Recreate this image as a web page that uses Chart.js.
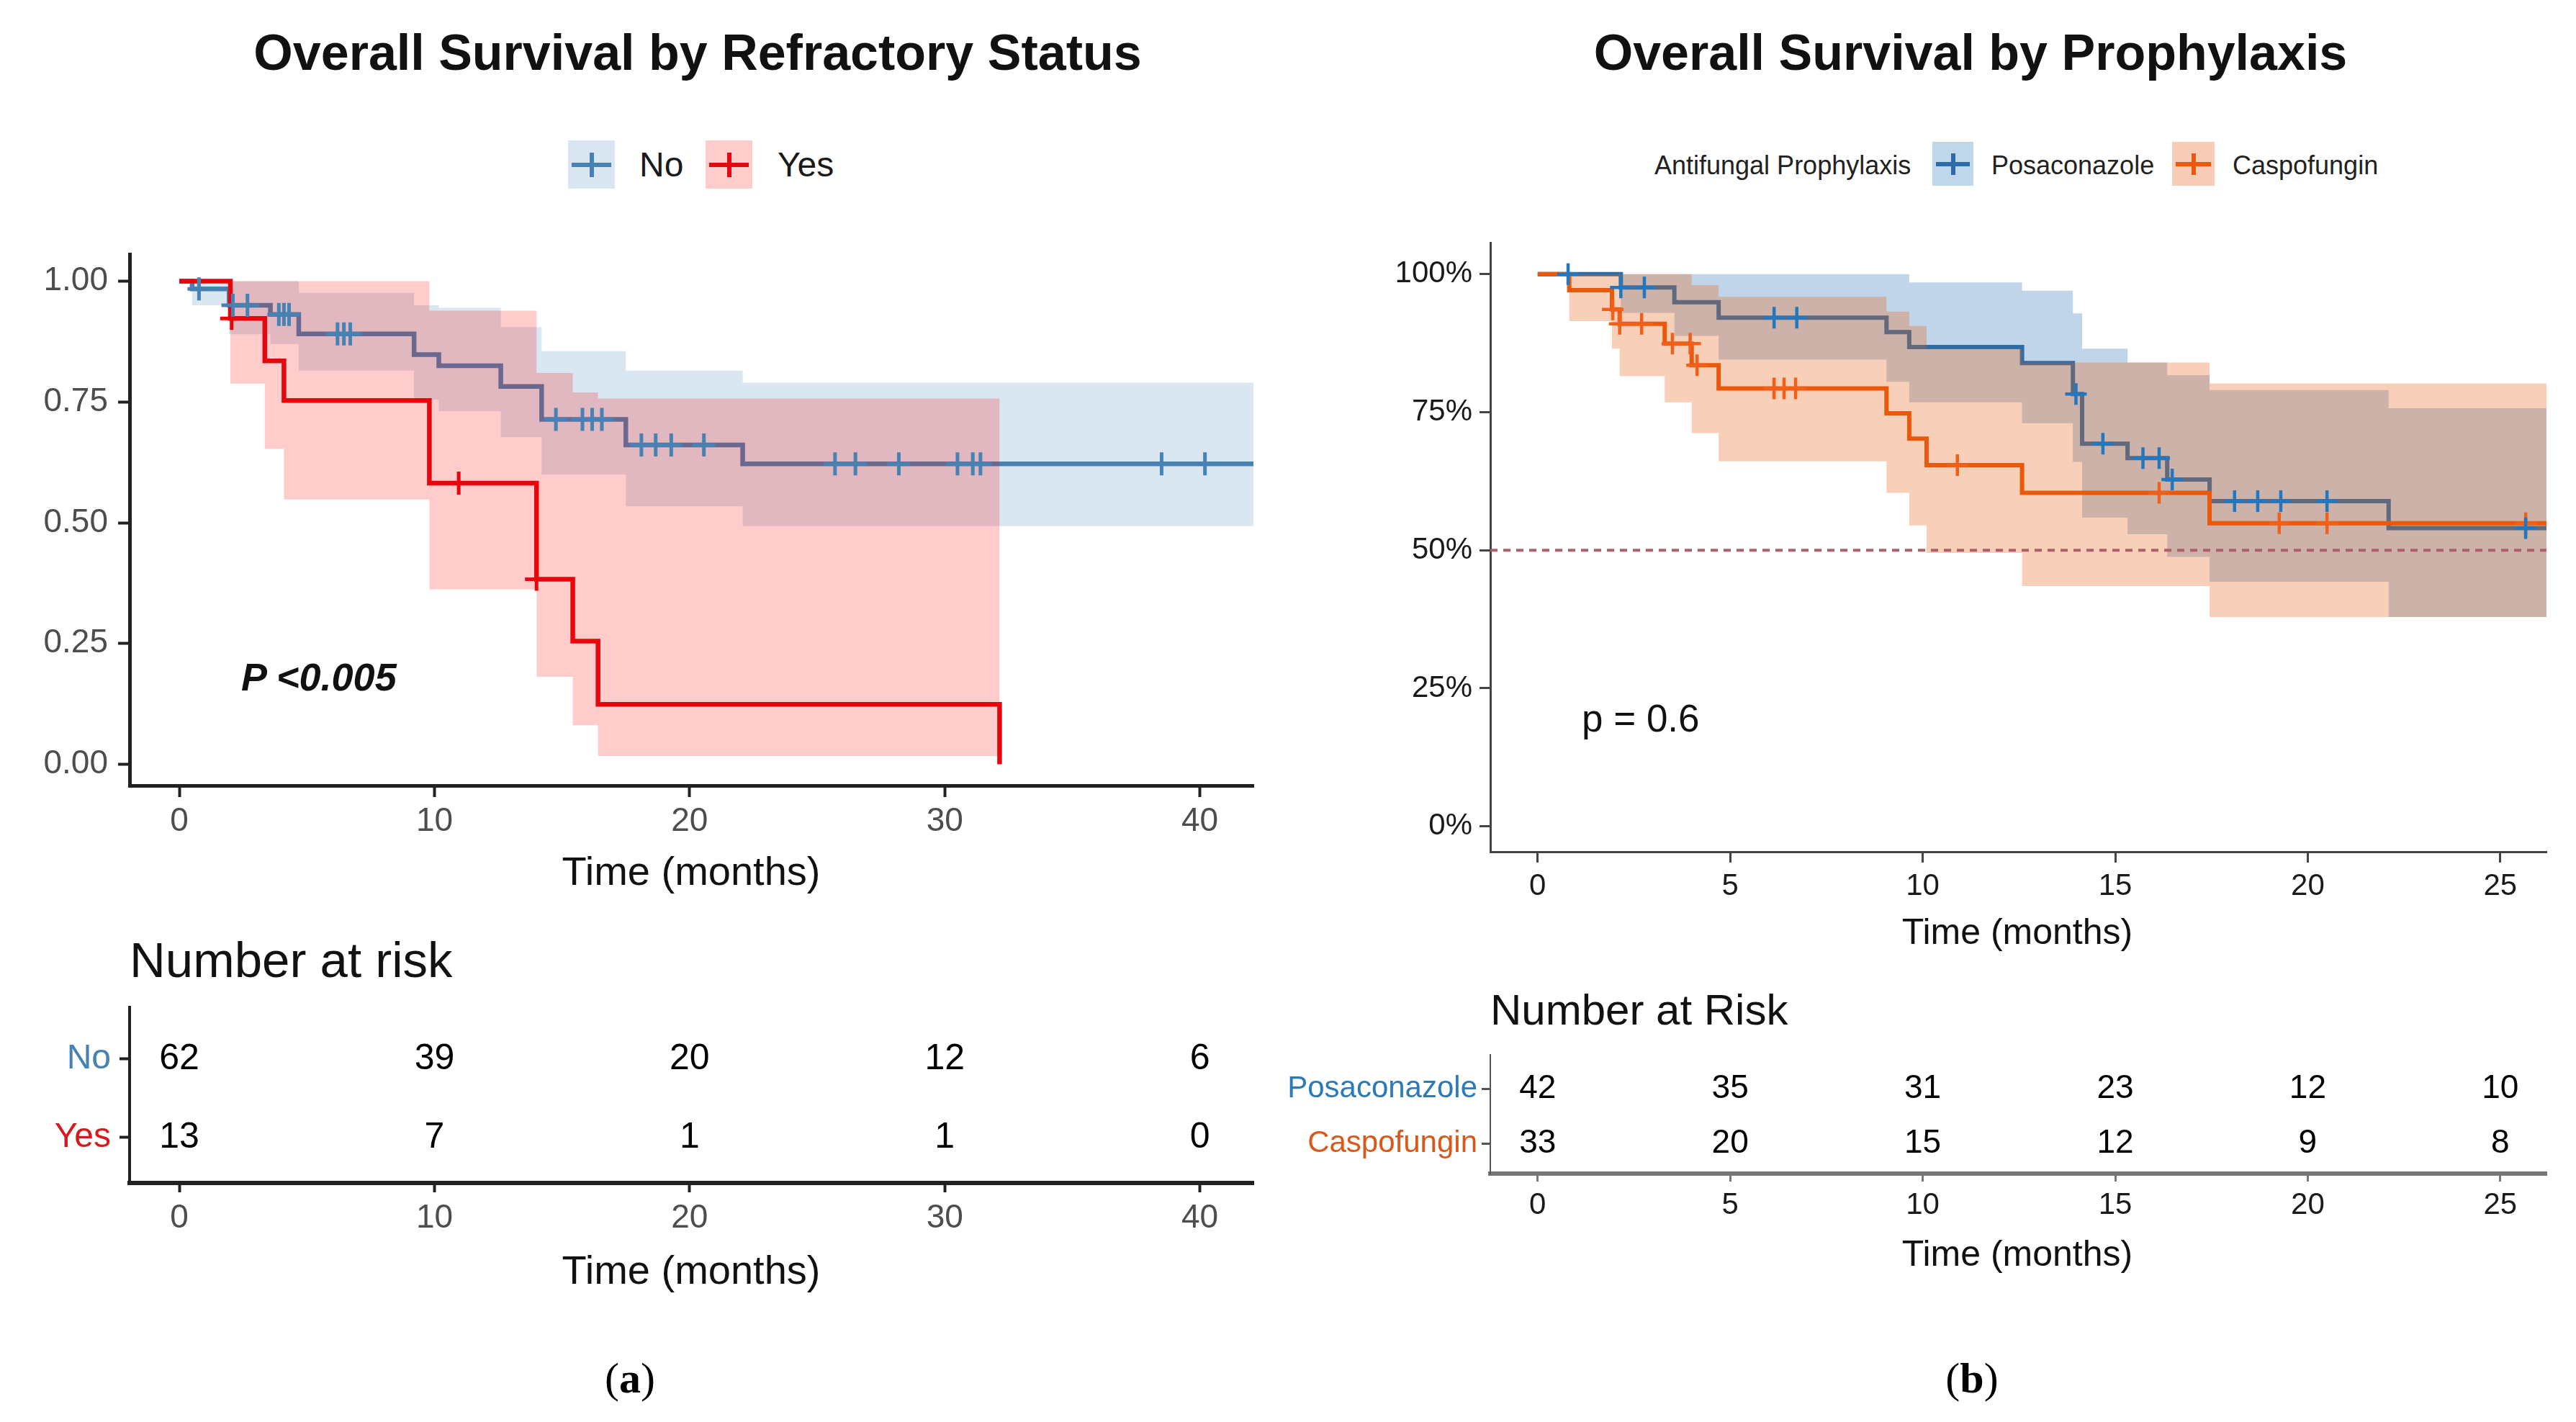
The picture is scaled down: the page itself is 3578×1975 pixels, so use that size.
<!DOCTYPE html>
<html>
<head>
<meta charset="utf-8">
<script src="https://cdn.jsdelivr.net/npm/chart.js@4.4.1/dist/chart.umd.min.js"></script>
<style>
html,body{margin:0;padding:0;background:#fff;}
#root{position:relative;width:3578px;height:1975px;overflow:hidden;background:#fff;}
canvas{position:absolute;}
</style>
</head>
<body>
<div id="root"></div>
<script>
// ================= DATA =================
// Panel (a): Overall survival by refractory status
const titleA = "Overall Survival by Refractory Status";
const groupNamesA = ["No", "Yes"];
const noTimes  = [0, 0.5, 1.95, 3.57, 4.68, 9.2, 10.17, 12.6, 14.2, 17.5, 22.08, 42.1];
const noSurv   = [1.0, 0.984, 0.95, 0.931, 0.891, 0.848, 0.825, 0.782, 0.714, 0.661, 0.622, 0.622];
const noLower  = [1.0, 0.95, 0.89, 0.87, 0.815, 0.755, 0.731, 0.677, 0.60, 0.534, 0.493, 0.493];
const noUpper  = [1.0, 1.0, 1.0, 1.0, 0.976, 0.95, 0.945, 0.905, 0.855, 0.815, 0.79, 0.79];
const noCensor = [0.77, 2.1, 2.67, 3.9, 4.1, 4.3, 6.2, 6.45, 6.7, 14.76, 15.8, 16.18, 16.56,
                  18.11, 18.67, 19.28, 20.56, 25.7, 26.5, 28.2, 30.5, 31.1, 31.4, 38.5, 40.2];
const yesTimes = [0, 2.0, 3.35, 4.1, 9.8, 14.0, 15.42, 16.41, 32.15];
const yesSurv  = [1.0, 0.923, 0.835, 0.753, 0.582, 0.383, 0.255, 0.124, 0.0];
const yesLower = [1.0, 0.788, 0.653, 0.548, 0.362, 0.181, 0.081, 0.017, 0.017];
const yesUpper = [1.0, 1.0, 1.0, 1.0, 0.939, 0.81, 0.77, 0.757, 0.757];
const yesCensor = [2.05, 10.95, 14.0];
const xTicksA = [0, 10, 20, 30, 40];
const yTicksA = [0, 0.25, 0.5, 0.75, 1.0];
const riskTimesA = [0, 10, 20, 30, 40];
const riskNo  = [62, 39, 20, 12, 6];
const riskYes = [13, 7, 1, 1, 0];
const pTextA = "P <0.005";

// Panel (b): Overall survival by prophylaxis
const titleB = "Overall Survival by Prophylaxis";
const legendTitleB = "Antifungal Prophylaxis";
const groupNamesB = ["Posaconazole", "Caspofungin"];
const posTimes = [0, 2.16, 3.55, 4.7, 9.06, 9.65, 12.58, 13.9, 14.14, 15.32, 16.35, 17.45, 22.1, 26.2];
const posSurv  = [1.0, 0.976, 0.949, 0.921, 0.895, 0.868, 0.839, 0.783, 0.693, 0.667, 0.628, 0.589, 0.54, 0.54];
const posLower = [1.0, 0.93, 0.888, 0.845, 0.805, 0.768, 0.73, 0.66, 0.559, 0.529, 0.488, 0.443, 0.379, 0.379];
const posUpper = [1.0, 1.0, 1.0, 1.0, 1.0, 0.985, 0.97, 0.929, 0.865, 0.84, 0.817, 0.79, 0.757, 0.757];
const posCensor = [0.79, 2.16, 2.77, 6.14, 6.73, 13.98, 14.68, 15.72, 16.14, 16.48, 18.1, 18.7, 19.3, 20.5, 25.66];
const casTimes = [0, 0.82, 1.93, 2.13, 3.3, 4.0, 4.7, 9.06, 9.65, 10.1, 12.58, 17.45, 26.2];
const casSurv  = [1.0, 0.971, 0.936, 0.91, 0.874, 0.835, 0.793, 0.748, 0.702, 0.654, 0.604, 0.549, 0.549];
const casLower = [1.0, 0.915, 0.865, 0.815, 0.768, 0.712, 0.661, 0.604, 0.545, 0.495, 0.435, 0.379, 0.379];
const casUpper = [1.0, 1.0, 1.0, 1.0, 1.0, 0.98, 0.959, 0.932, 0.906, 0.865, 0.84, 0.802, 0.802];
const casCensor = [1.95, 2.13, 2.7, 3.5, 3.96, 4.14, 6.14, 6.4, 6.7, 10.9, 16.14, 19.26, 20.5, 25.66];
const xTicksB = [0, 5, 10, 15, 20, 25];
const yTicksB = [0, 0.25, 0.5, 0.75, 1.0];
const medianRef = 0.5;
const riskTimesB = [0, 5, 10, 15, 20, 25];
const riskPos = [42, 35, 31, 23, 12, 10];
const riskCas = [33, 20, 15, 12, 9, 8];
const pTextB = "p = 0.6";
const xTitle = "Time (months)";

// ================= HELPERS =================
const W = 3578, H = 1975;
const FONT = "'Liberation Sans', Arial, Helvetica, sans-serif";
const root = document.getElementById('root');

function stepData(times, vals) { return times.map((t, i) => ({ x: t, y: vals[i] })); }
function valueAt(times, vals, t) {
  let v = vals[0];
  for (let i = 0; i < times.length; i++) if (times[i] <= t) v = vals[i];
  return v;
}
function txt(str, x, y, o) {
  const d = document.createElement('div');
  if (o.html) d.innerHTML = str; else d.textContent = str;
  d.style.cssText = `position:absolute;white-space:nowrap;font-family:${o.family || FONT};font-size:${o.size}px;line-height:${o.size}px;font-weight:${o.weight || 400};font-style:${o.style || 'normal'};color:${o.color || '#000'};top:${y - o.size * 0.5}px;`;
  if (o.align === 'center') { d.style.left = x + 'px'; d.style.transform = 'translateX(-50%)'; }
  else if (o.align === 'right') { d.style.right = (W - x) + 'px'; }
  else d.style.left = x + 'px';
  root.appendChild(d);
}
function legendKey(x, y, w, h, bg, col, lw, vh) {
  const b = document.createElement('div');
  b.style.cssText = `position:absolute;left:${x}px;top:${y}px;width:${w}px;height:${h}px;background:${bg};`;
  const hl = document.createElement('div');
  hl.style.cssText = `position:absolute;left:${w * 0.08}px;width:${w * 0.84}px;top:${h / 2 - lw / 2}px;height:${lw}px;background:${col};`;
  const vl = document.createElement('div');
  vl.style.cssText = `position:absolute;left:${w / 2 - lw / 2}px;width:${lw}px;top:${h / 2 - vh / 2}px;height:${vh}px;background:${col};`;
  b.appendChild(hl); b.appendChild(vl);
  root.appendChild(b);
}
function makeCanvas(x, y, w, h) {
  const c = document.createElement('canvas');
  c.width = w; c.height = h;
  c.style.left = x + 'px'; c.style.top = y + 'px';
  c.style.width = w + 'px'; c.style.height = h + 'px';
  root.appendChild(c);
  return c;
}

const hLinePlugin = {
  id: 'hline',
  afterDatasetsDraw(chart, args, opts) {
    if (!opts || opts.value == null) return;
    const { ctx, chartArea } = chart;
    const y = chart.scales.y.getPixelForValue(opts.value);
    ctx.save();
    ctx.strokeStyle = opts.color; ctx.lineWidth = opts.width;
    ctx.setLineDash(opts.dash);
    ctx.beginPath(); ctx.moveTo(chartArea.left, y); ctx.lineTo(chartArea.right, y); ctx.stroke();
    ctx.restore();
  }
};
const riskTextPlugin = {
  id: 'riskText',
  afterDatasetsDraw(chart, args, opts) {
    const ctx = chart.ctx;
    chart.data.datasets.forEach((ds, i) => {
      const meta = chart.getDatasetMeta(i);
      ctx.save();
      ctx.font = opts.font; ctx.fillStyle = opts.color;
      ctx.textAlign = 'center'; ctx.textBaseline = 'middle';
      meta.data.forEach((pt, j) => ctx.fillText(String(ds.counts[j]), pt.x, pt.y));
      ctx.restore();
    });
  }
};

function axisCommon(c, which) {
  return {
    type: 'linear',
    grid: { display: true, drawOnChartArea: false, drawTicks: true, tickLength: c[which].tickLen, tickWidth: c[which].tickW, tickColor: c[which].axisColor },
    border: { display: true, color: c[which].axisColor, width: c[which].axisW },
  };
}

function kmChart(c) {
  const canvas = makeCanvas(c.cx, c.cy, c.cw, c.ch);
  const datasets = [];
  c.groups.forEach((g, gi) => {
    const base = (c.groups.length - gi) * 10;
    datasets.push({ data: stepData(g.times, g.lower), stepped: true, borderWidth: 0, borderColor: 'rgba(0,0,0,0)', pointRadius: 0, fill: false, order: base + 4 });
    datasets.push({ data: stepData(g.times, g.upper), stepped: true, borderWidth: 0, borderColor: 'rgba(0,0,0,0)', pointRadius: 0, fill: '-1', backgroundColor: g.band, order: base + 3 });
    datasets.push({ data: stepData(g.times, g.surv), stepped: true, borderWidth: c.lineW, borderColor: g.line, pointRadius: 0, fill: false, order: base + 2, borderCapStyle: 'butt', borderJoinStyle: 'miter' });
    datasets.push({ data: g.censor.map(t => ({ x: t, y: valueAt(g.times, g.surv, t) })), showLine: false, pointStyle: 'cross', pointRadius: c.censorR, pointHoverRadius: c.censorR, pointBorderWidth: c.censorW, pointBorderColor: g.mark, borderColor: g.mark, backgroundColor: g.mark, order: gi + 1 });
  });
  const xs = axisCommon(c, 'x'), ys = axisCommon(c, 'y');
  Object.assign(xs, {
    min: c.xMin, max: c.xMax,
    afterBuildTicks: s => { s.ticks = c.xTicks.map(v => ({ value: v })); },
    afterFit: s => { s.height = c.xH; },
    ticks: { font: { family: FONT, size: c.x.fontSize }, color: c.x.tickColor, padding: c.x.pad, maxRotation: 0, autoSkip: false, callback: v => String(v) }
  });
  Object.assign(ys, {
    min: c.yMin, max: c.yMax,
    afterBuildTicks: s => { s.ticks = c.yTicks.map(v => ({ value: v })); },
    afterFit: s => { s.width = c.yW; },
    ticks: { font: { family: FONT, size: c.y.fontSize }, color: c.y.tickColor, padding: c.y.pad, autoSkip: false, callback: c.yFmt }
  });
  return new Chart(canvas, {
    type: 'line',
    data: { datasets },
    options: {
      responsive: false, animation: false, devicePixelRatio: 1,
      layout: { padding: { top: c.padT, right: c.padR, left: 0, bottom: 0 } },
      plugins: { legend: { display: false }, tooltip: { enabled: false }, hline: c.hline || {} },
      scales: { x: xs, y: ys }
    },
    plugins: c.hline ? [hLinePlugin] : []
  });
}

function riskChart(c) {
  const canvas = makeCanvas(c.cx, c.cy, c.cw, c.ch);
  const n = c.names.length;
  const datasets = c.rows.map((r, i) => ({
    data: c.times.map(t => ({ x: t, y: n - i })),
    counts: r, showLine: false, pointRadius: 0
  }));
  const xs = axisCommon(c, 'x'), ys = axisCommon(c, 'y');
  Object.assign(xs, {
    min: c.xMin, max: c.xMax,
    afterBuildTicks: s => { s.ticks = c.times.map(v => ({ value: v })); },
    afterFit: s => { s.height = c.xH; },
    ticks: { font: { family: FONT, size: c.x.fontSize }, color: c.x.tickColor, padding: c.x.pad, maxRotation: 0, autoSkip: false, callback: v => String(v) }
  });
  Object.assign(ys, {
    min: c.yMin, max: c.yMax,
    afterBuildTicks: s => { s.ticks = c.names.map((nm, i) => ({ value: n - i })); },
    afterFit: s => { s.width = c.yW; },
    ticks: { font: { family: FONT, size: c.y.fontSize }, padding: c.y.pad, autoSkip: false,
      color: ctx => c.nameColors[n - ctx.tick.value],
      callback: v => c.names[n - v] }
  });
  return new Chart(canvas, {
    type: 'line',
    data: { datasets },
    options: {
      responsive: false, animation: false, devicePixelRatio: 1,
      layout: { padding: { top: c.padT, right: c.padR, left: 0, bottom: 0 } },
      plugins: { legend: { display: false }, tooltip: { enabled: false }, riskText: { font: c.numFont, color: '#000' } },
      scales: { x: xs, y: ys }
    },
    plugins: [riskTextPlugin]
  });
}

// ================= COLOURS =================
const blueA = '#4682B4', redA = '#E8060E';
const blueBandA = 'rgba(70,130,180,0.2)', redBandA = 'rgba(255,0,0,0.2)';
const blueB = '#2A6DAA', orangeB = '#E8590C';
const blueMarkB = '#2178C0', orangeMarkB = '#F0601A';
const blueBandB = 'rgba(46,117,182,0.3)', orangeBandB = 'rgba(232,95,20,0.3)';

// ================= PANEL (a) =================
txt(titleA, 969, 73, { size: 70, weight: 700, align: 'center', color: '#111' });
legendKey(789, 195, 65, 67, '#D9E5F0', blueA, 6, 34);
txt(groupNamesA[0], 888, 229, { size: 48, color: '#1a1a1a' });
legendKey(980, 195, 65, 67, '#FFCCCC', redA, 6, 34);
txt(groupNamesA[1], 1080, 229, { size: 48, color: '#1a1a1a' });

kmChart({
  cx: 0, cy: 300, cw: 1780, ch: 900,
  yW: 180, xH: 109, padT: 53, padR: 39,
  xMin: -1.95, xMax: 42.1, yMin: -0.044, yMax: 1.056,
  xTicks: xTicksA, yTicks: yTicksA,
  yFmt: v => v.toFixed(2),
  lineW: 6.5, censorR: 16, censorW: 5,
  x: { tickLen: 16, tickW: 4, axisColor: '#222', axisW: 5, fontSize: 46, tickColor: '#4D4D4D', pad: 7 },
  y: { tickLen: 16, tickW: 4, axisColor: '#222', axisW: 5, fontSize: 46, tickColor: '#4D4D4D', pad: 14 },
  groups: [
    { times: noTimes, surv: noSurv, lower: noLower, upper: noUpper, censor: noCensor, line: blueA, mark: blueA, band: blueBandA },
    { times: yesTimes, surv: yesSurv, lower: yesLower, upper: yesUpper, censor: yesCensor, line: redA, mark: redA, band: redBandA }
  ]
});
txt(pTextA, 335, 940, { size: 54, weight: 700, style: 'italic', color: '#111' });
txt(xTitle, 960, 1210, { size: 56, align: 'center', color: '#111' });

txt("Number at risk", 180, 1333, { size: 69, color: '#111' });
riskChart({
  cx: 0, cy: 1350, cw: 1780, ch: 450,
  yW: 180, xH: 157, padT: 49, padR: 39,
  xMin: -1.95, xMax: 42.1, yMin: 0.42, yMax: 2.66,
  times: riskTimesA, rows: [riskNo, riskYes], names: groupNamesA, nameColors: [blueA, '#D7191C'],
  numFont: `50px ${FONT}`,
  x: { tickLen: 13, tickW: 4, axisColor: '#222', axisW: 6, fontSize: 46, tickColor: '#4D4D4D', pad: 9 },
  y: { tickLen: 14, tickW: 4, axisColor: '#222', axisW: 4, fontSize: 48, pad: 12 }
});
txt(xTitle, 960, 1764, { size: 56, align: 'center', color: '#111' });
txt("(<b>a</b>)", 875, 1914, { size: 60, html: true, align: 'center', family: "'Liberation Serif', 'Times New Roman', serif", color: '#000' });

// ================= PANEL (b) =================
txt(titleB, 2737, 73, { size: 70, weight: 700, align: 'center', color: '#111' });
txt(legendTitleB, 2298, 230, { size: 36, color: '#222' });
legendKey(2684, 197, 57, 61, '#C0D6E9', blueB, 6, 30);
txt(groupNamesB[0], 2766, 230, { size: 36, color: '#222' });
legendKey(3017, 197, 59, 61, '#F8CCB6', orangeB, 6, 30);
txt(groupNamesB[1], 3101, 230, { size: 36, color: '#222' });

kmChart({
  cx: 1750, cy: 300, cw: 1828, ch: 950,
  yW: 320, xH: 67, padT: 37, padR: 41,
  xMin: -1.23, xMax: 26.2, yMin: -0.046, yMax: 1.057,
  xTicks: xTicksB, yTicks: yTicksB,
  yFmt: v => Math.round(v * 100) + '%',
  lineW: 6, censorR: 15, censorW: 4.5,
  x: { tickLen: 15, tickW: 3, axisColor: '#444', axisW: 3, fontSize: 42, tickColor: '#1a1a1a', pad: 8 },
  y: { tickLen: 15, tickW: 3, axisColor: '#444', axisW: 3, fontSize: 42, tickColor: '#1a1a1a', pad: 10 },
  hline: { value: medianRef, color: '#AE5F6A', width: 4, dash: [10, 8] },
  groups: [
    { times: posTimes, surv: posSurv, lower: posLower, upper: posUpper, censor: posCensor, line: blueB, mark: blueMarkB, band: blueBandB },
    { times: casTimes, surv: casSurv, lower: casLower, upper: casUpper, censor: casCensor, line: orangeB, mark: orangeMarkB, band: orangeBandB }
  ]
});
txt(pTextB, 2197, 997, { size: 53, color: '#111' });
txt(xTitle, 2802, 1294, { size: 50, align: 'center', color: '#111' });

txt("Number at Risk", 2070, 1403, { size: 60, color: '#111' });
riskChart({
  cx: 1750, cy: 1420, cw: 1828, ch: 300,
  yW: 320, xH: 90, padT: 45, padR: 41,
  xMin: -1.23, xMax: 26.2, yMin: 0.45, yMax: 2.62,
  times: riskTimesB, rows: [riskPos, riskCas], names: groupNamesB, nameColors: ['#2B7BBA', '#D9581A'],
  numFont: `46px ${FONT}`,
  x: { tickLen: 11, tickW: 3, axisColor: '#777', axisW: 6, fontSize: 42, tickColor: '#1a1a1a', pad: 8 },
  y: { tickLen: 12, tickW: 3, axisColor: '#555', axisW: 2, fontSize: 42, pad: 6 }
});
txt(xTitle, 2802, 1741, { size: 50, align: 'center', color: '#111' });
txt("(<b>b</b>)", 2739, 1914, { size: 60, html: true, align: 'center', family: "'Liberation Serif', 'Times New Roman', serif", color: '#000' });
</script>
</body>
</html>
